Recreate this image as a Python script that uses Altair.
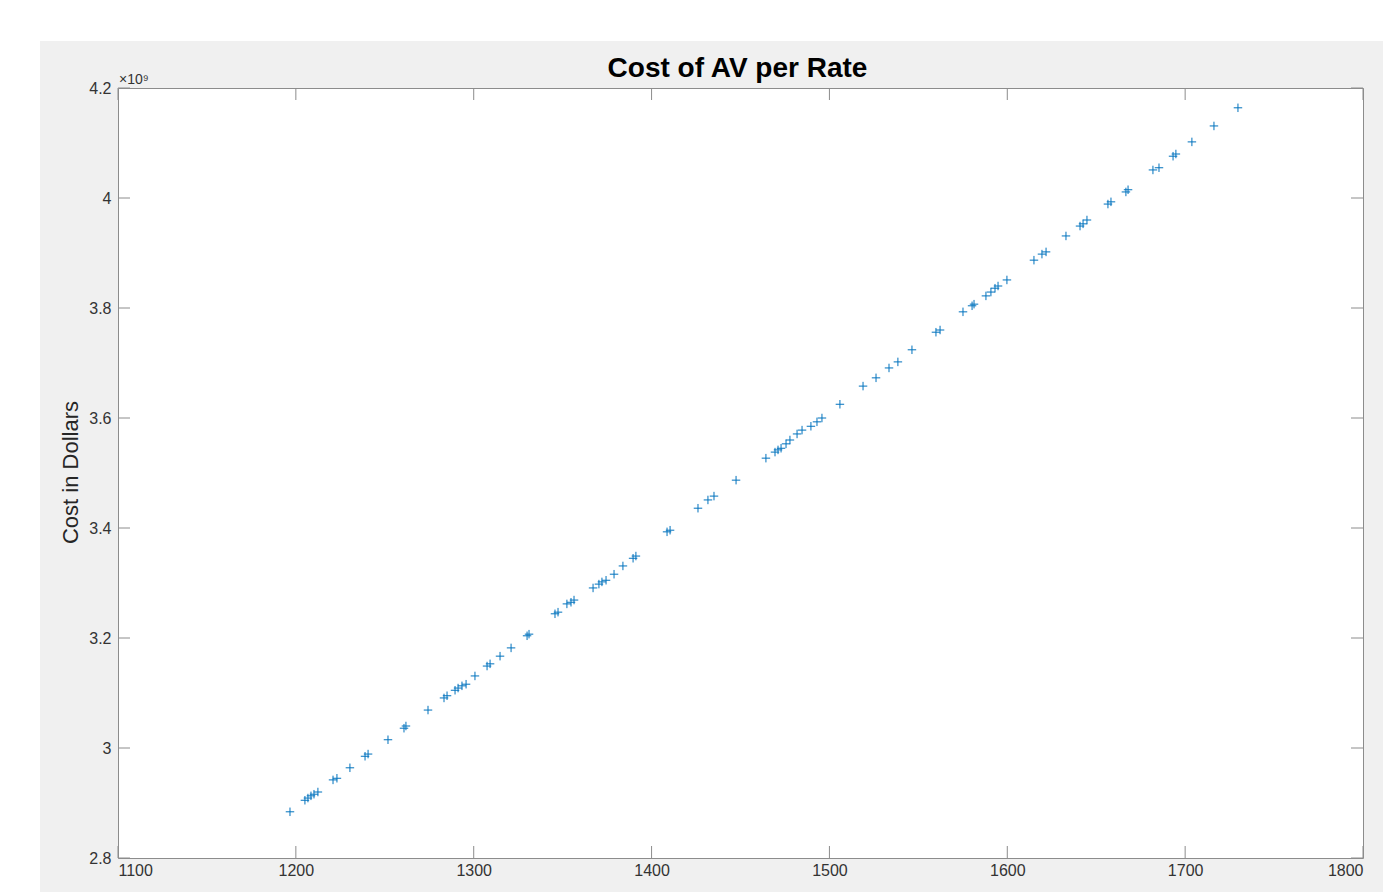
import altair as alt
import pandas as pd

# ---- data ----
hours = [1196.7, 1205.1, 1206.8, 1208.5, 1210.2, 1212.4, 1220.9, 1223.1, 1230.4, 1238.9,
         1240.6, 1251.8, 1260.8, 1261.9, 1274.3, 1283.3, 1285.0, 1289.5, 1291.2, 1293.4,
         1295.7, 1300.7, 1307.5, 1309.2, 1314.8, 1321.0, 1330.0, 1331.1, 1345.7, 1347.4,
         1352.4, 1354.7, 1356.4, 1367.1, 1370.4, 1372.1, 1374.4, 1378.9, 1383.9, 1389.6,
         1391.2, 1408.7, 1410.4, 1426.1, 1431.7, 1435.1, 1447.5, 1464.3, 1469.4, 1471.1,
         1472.8, 1475.6, 1477.8, 1481.8, 1484.6, 1489.6, 1493.0, 1495.8, 1505.9, 1518.9,
         1526.2, 1533.5, 1538.5, 1546.4, 1559.9, 1562.2, 1575.1, 1580.2, 1581.3, 1588.0,
         1590.8, 1593.1, 1594.8, 1599.8, 1615.0, 1619.5, 1621.8, 1633.0, 1640.9, 1642.6,
         1644.8, 1656.6, 1658.3, 1666.7, 1667.9, 1681.9, 1685.3, 1693.2, 1694.8, 1703.8,
         1716.2, 1729.7]
cost_billions = [2.884, 2.905, 2.909, 2.913, 2.916, 2.920, 2.942, 2.945, 2.964, 2.985,
                 2.989, 3.015, 3.036, 3.040, 3.069, 3.091, 3.095, 3.105, 3.109, 3.113,
                 3.116, 3.131, 3.149, 3.153, 3.167, 3.182, 3.204, 3.207, 3.244, 3.247,
                 3.262, 3.265, 3.269, 3.291, 3.298, 3.302, 3.305, 3.316, 3.331, 3.345,
                 3.349, 3.393, 3.396, 3.436, 3.451, 3.458, 3.487, 3.527, 3.538, 3.542,
                 3.545, 3.553, 3.560, 3.571, 3.578, 3.585, 3.593, 3.600, 3.625, 3.658,
                 3.673, 3.691, 3.702, 3.724, 3.756, 3.760, 3.793, 3.804, 3.807, 3.822,
                 3.829, 3.836, 3.840, 3.851, 3.887, 3.898, 3.902, 3.931, 3.949, 3.953,
                 3.960, 3.989, 3.993, 4.011, 4.015, 4.051, 4.055, 4.076, 4.080, 4.102,
                 4.131, 4.164]
x_ticks = [1100, 1200, 1300, 1400, 1500, 1600, 1700, 1800]
y_ticks = [2.8, 3.0, 3.2, 3.4, 3.6, 3.8, 4.0, 4.2]

title_text = "Cost of AV per Rate"
x_title = "Time in Hours"
y_title = "Cost in Dollars"
exponent_label = "×10⁹"

# ---- layout ----
W, H = 1245, 770
FONT = "Liberation Sans"
TICK = 12
AXIS_GRAY = "#8c8c8c"
TEXT = "#333333"

df = pd.DataFrame({"hours": hours, "cost": cost_billions})
xt = pd.DataFrame({"t": x_ticks})
yt = pd.DataFrame({"t": y_ticks})
one = alt.Data(values=[{}])

xscale = alt.Scale(domain=[x_ticks[0], x_ticks[-1]], nice=False, zero=False)
yscale = alt.Scale(domain=[y_ticks[0], y_ticks[-1]], nice=False, zero=False)

xaxis = alt.Axis(values=x_ticks, format="d", ticks=False, domain=False, grid=False,
                 labelFont=FONT, labelFontSize=16, labelColor=TEXT, labelPadding=4,
                 title=x_title, titleFont=FONT, titleFontSize=20, titleFontWeight="normal",
                 titleColor="#262626", titleBaseline="top", titleY=798, zindex=1)
yaxis = alt.Axis(values=y_ticks, format=".1~f", ticks=False, domain=False, grid=False,
                 labelFont=FONT, labelFontSize=16, labelColor=TEXT, labelPadding=7,
                 title=y_title, titleFont=FONT, titleFontSize=22, titleFontWeight="normal",
                 titleColor="#262626", titleBaseline="middle", titleX=-48, titleY=384,
                 zindex=1)

# white page area outside the grey figure
strip_left = alt.Chart(one).mark_rect(color="white").encode(
    x=alt.value(-130), x2=alt.value(-78), y=alt.value(-100), y2=alt.value(H + 60))
strip_top = alt.Chart(one).mark_rect(color="white").encode(
    x=alt.value(-130), x2=alt.value(W + 60), y=alt.value(-100), y2=alt.value(-47))

points = alt.Chart(df).mark_point(
    shape="M-1,0L1,0M0,-1L0,1", size=72, filled=False, strokeWidth=1,
    color="#0072BD", opacity=1
).encode(
    x=alt.X("hours:Q", scale=xscale, axis=xaxis),
    y=alt.Y("cost:Q", scale=yscale, axis=yaxis),
)

# inward tick marks on all four sides
xt_bottom = alt.Chart(xt).mark_rule(color=AXIS_GRAY, strokeWidth=1).encode(
    x=alt.X("t:Q", scale=xscale), y=alt.value(H), y2=alt.value(H - TICK))
xt_top = alt.Chart(xt).mark_rule(color=AXIS_GRAY, strokeWidth=1).encode(
    x=alt.X("t:Q", scale=xscale), y=alt.value(0), y2=alt.value(TICK))
yt_left = alt.Chart(yt).mark_rule(color=AXIS_GRAY, strokeWidth=1).encode(
    y=alt.Y("t:Q", scale=yscale), x=alt.value(0), x2=alt.value(TICK))
yt_right = alt.Chart(yt).mark_rule(color=AXIS_GRAY, strokeWidth=1).encode(
    y=alt.Y("t:Q", scale=yscale), x=alt.value(W), x2=alt.value(W - TICK))

title = alt.Chart(one).mark_text(
    text=title_text, font=FONT, fontSize=28, fontWeight="bold", color="#000000",
    align="center", baseline="alphabetic"
).encode(x=alt.value(W / 2 - 3), y=alt.value(-11))

exponent = alt.Chart(one).mark_text(
    text=exponent_label, font=FONT, fontSize=14, color=TEXT,
    align="left", baseline="alphabetic"
).encode(x=alt.value(1), y=alt.value(-4))

chart = alt.layer(
    strip_left, strip_top, xt_bottom, xt_top, yt_left, yt_right, points, title, exponent
).properties(
    width=W, height=H,
    autosize=alt.AutoSizeParams(type="none"),
    padding={"left": 110, "top": 80, "right": 20, "bottom": 34},
    background="#f0f0f0",
).configure_view(
    fill="white", stroke=AXIS_GRAY, strokeWidth=1
)

chart.save("out.html", embed_options={"renderer": "svg", "actions": False})
